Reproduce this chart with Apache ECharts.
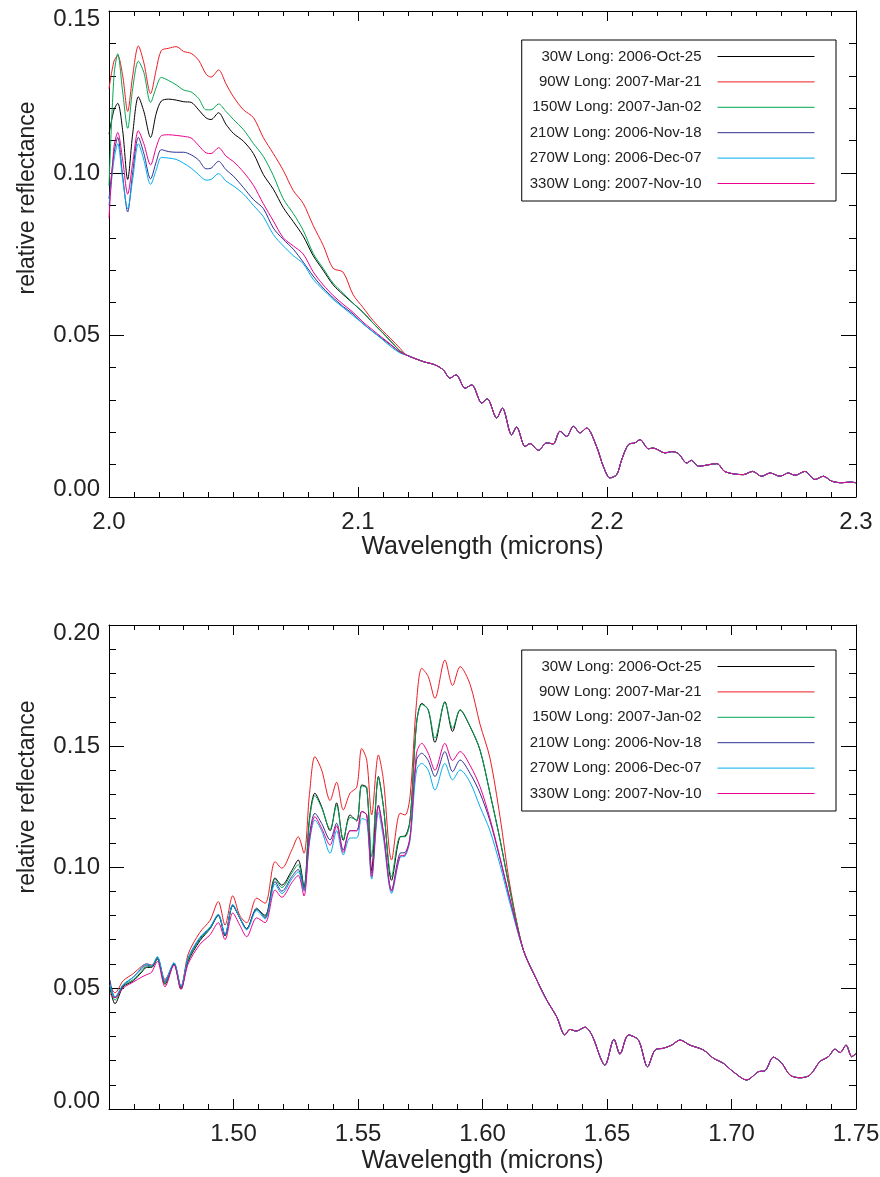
<!DOCTYPE html>
<html>
<head>
<meta charset="utf-8">
<title>relative reflectance</title>
<script src="https://cdn.jsdelivr.net/npm/echarts@6/dist/echarts.min.js"></script>
<style>
  body { margin: 0; background: #fff; }
  #main { width: 880px; height: 1177px; }
</style>
</head>
<body>
<div id="main"></div>
<script>
// series names (legend)
var names = ['30W Long: 2006-Oct-25', '90W Long: 2007-Mar-21', '150W Long: 2007-Jan-02',
             '210W Long: 2006-Nov-18', '270W Long: 2006-Dec-07', '330W Long: 2007-Nov-10'];
var colors = ['#000000', '#ed1c24', '#00a651', '#2e3192', '#00aeef', '#ec008c'];

// ---- top panel: 2.0 - 2.3 microns ----
// wavelengths where the six curves differ
var wlTopHead = [2.000, 2.002, 2.0035, 2.0055, 2.0075, 2.0095, 2.0118, 2.014, 2.0167, 2.019,
                 2.021, 2.024, 2.027, 2.030, 2.033, 2.036, 2.039, 2.041, 2.044, 2.047,
                 2.050, 2.054, 2.058, 2.062, 2.066, 2.070, 2.074, 2.078, 2.082, 2.086,
                 2.090, 2.094, 2.098, 2.102, 2.106, 2.110, 2.113, 2.117];
var blackTop = [0.112, 0.1195, 0.1215, 0.113, 0.0980, 0.112, 0.1235, 0.119, 0.1110, 0.1185,
                0.1222, 0.1228, 0.1225, 0.1220, 0.1218, 0.1195, 0.1170, 0.1165, 0.1186, 0.1150,
                0.1122, 0.1098, 0.1060, 0.0995, 0.0950, 0.0893, 0.0850, 0.0805, 0.0745, 0.0700,
                0.0655, 0.0625, 0.0598, 0.0570, 0.0537, 0.0506, 0.0482, 0.0450];
var redTop = [0.126, 0.1345, 0.1362, 0.130, 0.1190, 0.130, 0.1392, 0.134, 0.1245, 0.132,
              0.1378, 0.1385, 0.1390, 0.1375, 0.1369, 0.1348, 0.1305, 0.1296, 0.1318, 0.1275,
              0.1235, 0.1195, 0.1171, 0.1109, 0.1060, 0.1008, 0.0946, 0.0906, 0.0838, 0.0777,
              0.0706, 0.0694, 0.0625, 0.0585, 0.0545, 0.0512, 0.0490, 0.0458];
var greenTop = [0.096, 0.130, 0.1368, 0.125, 0.1138, 0.126, 0.1345, 0.131, 0.1218, 0.1265,
                0.1295, 0.1285, 0.1272, 0.1256, 0.1250, 0.1230, 0.1195, 0.1195, 0.1213, 0.1190,
                0.1165, 0.1134, 0.1091, 0.1051, 0.0992, 0.0920, 0.0875, 0.0823, 0.0752, 0.0706,
                0.0660, 0.0629, 0.0598, 0.0571, 0.0537, 0.0506, 0.0482, 0.0450];
var blueTop = [0.092, 0.106, 0.1110, 0.099, 0.0880, 0.100, 0.1110, 0.106, 0.0982, 0.1035,
               0.1072, 0.1066, 0.1064, 0.1064, 0.1056, 0.1040, 0.1013, 0.1015, 0.1036, 0.1010,
               0.0990, 0.0955, 0.0918, 0.0890, 0.0830, 0.0795, 0.0765, 0.0725, 0.0682, 0.0645,
               0.0615, 0.0588, 0.0565, 0.0535, 0.0510, 0.0487, 0.0470, 0.0446];
var cyanTop = [0.090, 0.104, 0.1090, 0.098, 0.0890, 0.098, 0.1090, 0.104, 0.0965, 0.101,
               0.1048, 0.1046, 0.1042, 0.1030, 0.1015, 0.0995, 0.0978, 0.0980, 0.0998, 0.0975,
               0.0960, 0.0935, 0.0900, 0.0865, 0.0810, 0.0775, 0.0745, 0.0720, 0.0672, 0.0640,
               0.0610, 0.0585, 0.0560, 0.0535, 0.0510, 0.0485, 0.0465, 0.0444];
var pinkTop = [0.086, 0.108, 0.1125, 0.104, 0.0935, 0.103, 0.1130, 0.109, 0.1025, 0.108,
               0.1115, 0.1118, 0.1116, 0.1113, 0.1108, 0.1085, 0.1062, 0.1060, 0.1078, 0.1052,
               0.1035, 0.1003, 0.0962, 0.0905, 0.0852, 0.0800, 0.0775, 0.0750, 0.0695, 0.0655,
               0.0622, 0.0595, 0.0570, 0.0540, 0.0515, 0.0490, 0.0472, 0.0447];
// beyond ~2.12 the curves lie on top of each other
var wlTopTail = [2.1195, 2.1262, 2.1309, 2.1343, 2.1369, 2.1394, 2.1430, 2.1457, 2.1497, 2.1519,
                 2.1557, 2.1580, 2.1617, 2.1637, 2.1671, 2.1691, 2.1724, 2.1758, 2.1784, 2.1811,
                 2.1838, 2.1865, 2.1892, 2.1918, 2.1958, 2.1985, 2.2012, 2.2039, 2.2059, 2.2086,
                 2.2112, 2.2133, 2.2166, 2.2186, 2.2233, 2.2260, 2.2287, 2.2320, 2.2340, 2.2367,
                 2.2441, 2.2474, 2.2547, 2.2585, 2.2621, 2.2655, 2.2695, 2.2728, 2.2755, 2.2795,
                 2.2835, 2.2869, 2.2902, 2.2942, 2.2976, 2.3000];
var topTail = [0.0438, 0.0418, 0.0408, 0.0392, 0.0367, 0.0377, 0.0336, 0.0346, 0.0290, 0.0303,
               0.0244, 0.0274, 0.0192, 0.0216, 0.0156, 0.0165, 0.0144, 0.0167, 0.0164, 0.0203,
               0.0187, 0.0218, 0.0198, 0.0213, 0.0156, 0.0095, 0.0059, 0.0069, 0.0115, 0.0162,
               0.0167, 0.0177, 0.0149, 0.0151, 0.0136, 0.0140, 0.0134, 0.0105, 0.0113, 0.0095,
               0.0103, 0.0078, 0.0069, 0.0079, 0.0064, 0.0074, 0.0064, 0.0074, 0.0067, 0.0079,
               0.0054, 0.0064, 0.0049, 0.0044, 0.0046, 0.0044];

// ---- bottom panel: 1.45 - 1.75 microns ----
var wlBotHead = [1.4504, 1.4524, 1.4557, 1.4598, 1.4631, 1.4651, 1.4671, 1.4694, 1.4725, 1.4761,
                 1.4789, 1.4818, 1.4865, 1.4906, 1.4939, 1.4966, 1.4997, 1.5025, 1.5053, 1.5093,
                 1.5127, 1.5167, 1.5194, 1.5234, 1.5260, 1.5283, 1.5305, 1.5327, 1.5354, 1.5388,
                 1.5414, 1.5441, 1.5468, 1.5495, 1.5515, 1.5535, 1.5555, 1.5582, 1.5602, 1.5635,
                 1.5669, 1.5689, 1.5709, 1.5735, 1.5756, 1.5782, 1.5809, 1.5849, 1.5880, 1.5910,
                 1.5950, 1.5990, 1.6030, 1.6070, 1.6110];
var blackBot = [0.0500, 0.0435, 0.0505, 0.0530, 0.0565, 0.0585, 0.0585, 0.0620, 0.0515, 0.0600,
                0.0495, 0.0610, 0.0695, 0.0745, 0.0800, 0.0715, 0.0840, 0.0790, 0.0745, 0.0825,
                0.0800, 0.0955, 0.0925, 0.0985, 0.1029, 0.0919, 0.1200, 0.1305, 0.1249, 0.1150,
                0.1265, 0.1110, 0.1215, 0.1190, 0.1339, 0.1329, 0.0985, 0.1374, 0.1250, 0.0945,
                0.1125, 0.1128, 0.1194, 0.1594, 0.1676, 0.1649, 0.1515, 0.1683, 0.1560, 0.1649,
                0.1580, 0.1483, 0.1305, 0.1115, 0.0905];
var redBot = [0.0510, 0.0480, 0.0530, 0.0560, 0.0590, 0.0600, 0.0595, 0.0620, 0.0535, 0.0600,
              0.0505, 0.0640, 0.0730, 0.0780, 0.0857, 0.0760, 0.0881, 0.0800, 0.0770, 0.0871,
              0.0850, 0.1022, 0.0995, 0.1070, 0.1125, 0.1057, 0.1300, 0.1456, 0.1401, 0.1275,
              0.1350, 0.1236, 0.1305, 0.1330, 0.1490, 0.1442, 0.1215, 0.1463, 0.1360, 0.1029,
              0.1222, 0.1215, 0.1291, 0.1680, 0.1821, 0.1787, 0.1697, 0.1855, 0.1750, 0.1828,
              0.1755, 0.1590, 0.1450, 0.1210, 0.0925];
var greenBot = [0.0510, 0.0450, 0.0510, 0.0535, 0.0570, 0.0590, 0.0588, 0.0622, 0.0520, 0.0600,
                0.0500, 0.0615, 0.0700, 0.0745, 0.0800, 0.0718, 0.0842, 0.0790, 0.0745, 0.0825,
                0.0795, 0.0950, 0.0915, 0.0975, 0.1010, 0.0912, 0.1190, 0.1295, 0.1245, 0.1155,
                0.1255, 0.1115, 0.1205, 0.1195, 0.1335, 0.1325, 0.1043, 0.1370, 0.1250, 0.0960,
                0.1125, 0.1125, 0.1190, 0.1590, 0.1672, 0.1650, 0.1532, 0.1680, 0.1573, 0.1650,
                0.1582, 0.1485, 0.1305, 0.1115, 0.0905];
var blueBot = [0.0533, 0.0460, 0.0512, 0.0545, 0.0580, 0.0595, 0.0590, 0.0627, 0.0526, 0.0602,
               0.0503, 0.0623, 0.0705, 0.0750, 0.0802, 0.0720, 0.0843, 0.0790, 0.0745, 0.0830,
               0.0790, 0.0940, 0.0900, 0.0960, 0.0990, 0.0905, 0.1130, 0.1222, 0.1180, 0.1112,
               0.1181, 0.1070, 0.1150, 0.1150, 0.1229, 0.1215, 0.0974, 0.1256, 0.1146, 0.0905,
               0.1057, 0.1060, 0.1125, 0.1442, 0.1470, 0.1440, 0.1374, 0.1477, 0.1394, 0.1442,
               0.1387, 0.1305, 0.1190, 0.1035, 0.0865];
var cyanBot = [0.0510, 0.0464, 0.0515, 0.0545, 0.0585, 0.0600, 0.0592, 0.0630, 0.0530, 0.0605,
               0.0508, 0.0625, 0.0710, 0.0752, 0.0805, 0.0722, 0.0845, 0.0790, 0.0740, 0.0820,
               0.0785, 0.0930, 0.0890, 0.0950, 0.0980, 0.0900, 0.1100, 0.1194, 0.1150, 0.1057,
               0.1150, 0.1050, 0.1120, 0.1120, 0.1200, 0.1190, 0.0950, 0.1225, 0.1120, 0.0891,
               0.1040, 0.1045, 0.1110, 0.1400, 0.1428, 0.1400, 0.1318, 0.1428, 0.1360, 0.1401,
               0.1350, 0.1249, 0.1150, 0.1010, 0.0850];
var pinkBot = [0.0475, 0.0460, 0.0500, 0.0525, 0.0545, 0.0555, 0.0565, 0.0610, 0.0505, 0.0595,
               0.0495, 0.0600, 0.0680, 0.0720, 0.0770, 0.0700, 0.0810, 0.0760, 0.0712, 0.0790,
               0.0770, 0.0905, 0.0875, 0.0935, 0.0965, 0.0880, 0.1110, 0.1208, 0.1160, 0.1090,
               0.1170, 0.1060, 0.1150, 0.1150, 0.1230, 0.1215, 0.0960, 0.1250, 0.1140, 0.0900,
               0.1045, 0.1050, 0.1120, 0.1470, 0.1511, 0.1470, 0.1400, 0.1511, 0.1440, 0.1477,
               0.1420, 0.1332, 0.1200, 0.1040, 0.0870];
var wlBotTail = [1.6164, 1.6218, 1.6258, 1.6298, 1.6331, 1.6351, 1.6376, 1.6412, 1.6439, 1.6492,
                 1.6528, 1.6552, 1.6586, 1.6626, 1.6663, 1.6693, 1.6726, 1.6760, 1.6793, 1.6833,
                 1.6887, 1.6927, 1.6967, 1.7007, 1.7061, 1.7108, 1.7135, 1.7168, 1.7202, 1.7235,
                 1.7275, 1.7315, 1.7355, 1.7389, 1.7416, 1.7436, 1.7460, 1.7483, 1.7500];
var botTail = [0.0657, 0.0533, 0.0450, 0.0381, 0.0306, 0.0329, 0.0322, 0.0338, 0.0306, 0.0182,
               0.0288, 0.0227, 0.0306, 0.0285, 0.0175, 0.0244, 0.0251, 0.0264, 0.0285, 0.0264,
               0.0244, 0.0210, 0.0189, 0.0154, 0.0120, 0.0154, 0.0158, 0.0214, 0.0189, 0.0140,
               0.0129, 0.0140, 0.0196, 0.0216, 0.0247, 0.0233, 0.0264, 0.0216, 0.0230];

var topValues = [blackTop, redTop, greenTop, blueTop, cyanTop, pinkTop];
var botValues = [blackBot, redBot, greenBot, blueBot, cyanBot, pinkBot];

// join head + shared tail into [x, y] pairs
function pairs(xs, ys, xs2, ys2) {
    var out = [];
    for (var i = 0; i < xs.length; i++) out.push([xs[i], ys[i]]);
    for (var j = 0; j < xs2.length; j++) out.push([xs2[j], ys2[j]]);
    return out;
}

var font = "'Liberation Sans', Arial, sans-serif";
var textColor = '#222';

function xAxisOpt(grid, min, max, interval, minorSplit, pos, fmt, nameGap) {
    var mirror = pos === 'top';
    return {
        gridIndex: grid, type: 'value', position: pos,
        min: min, max: max, interval: interval,
        axisLine: { onZero: false, lineStyle: { color: '#000', width: 1 } },
        axisTick: { inside: true, length: 10, lineStyle: { color: '#000' } },
        minorTick: { show: true, splitNumber: minorSplit, length: 5, lineStyle: { color: '#000' } },
        splitLine: { show: false },
        axisLabel: { show: !mirror, margin: 13, fontSize: 24, color: textColor, fontFamily: font, formatter: fmt },
        name: mirror ? '' : 'Wavelength (microns)',
        nameLocation: 'middle', nameGap: nameGap,
        nameTextStyle: { fontSize: 25, color: textColor, fontFamily: font }
    };
}

function yAxisOpt(grid, max, pos) {
    var mirror = pos === 'right';
    return {
        gridIndex: grid, type: 'value', position: pos,
        min: 0, max: max, interval: 0.05,
        axisLine: { show: true, onZero: false, lineStyle: { color: '#000', width: 1 } },
        axisTick: { show: true, inside: true, length: 15, lineStyle: { color: '#000' } },
        minorTick: { show: true, splitNumber: 5, length: 7, lineStyle: { color: '#000' } },
        splitLine: { show: false },
        axisLabel: {
            show: !mirror, margin: 9, fontSize: 24, color: textColor, fontFamily: font, lineHeight: 16,
            verticalAlignMinLabel: 'bottom', verticalAlignMaxLabel: 'top',
            formatter: function (v) { return v.toFixed(2); }
        }
    };
}

// legend box: text right-aligned, a plain line sample on the right
function legendOpt(top) {
    return {
        orient: 'vertical', right: 44, top: top, align: 'right',
        itemWidth: 97, itemHeight: 15, itemGap: 10.4,
        padding: [9, 21, 10, 8],
        borderColor: '#000', borderWidth: 1,
        selectedMode: false,
        itemStyle: { opacity: 0 },
        lineStyle: { width: 1 },
        textStyle: { fontSize: 15, color: textColor, fontFamily: font, padding: [0, 11, 0, 0] },
        data: names
    };
}

var series = [];
for (var k = 0; k < 6; k++) {
    series.push({
        name: names[k], type: 'line', xAxisIndex: 0, yAxisIndex: 0,
        symbol: 'none', smooth: 0.3, color: colors[k],
        lineStyle: { width: 1, color: colors[k] },
        data: pairs(wlTopHead, topValues[k], wlTopTail, topTail)
    });
}
for (var m = 0; m < 6; m++) {
    series.push({
        name: names[m], type: 'line', xAxisIndex: 2, yAxisIndex: 2,
        symbol: 'none', smooth: 0.3, color: colors[m],
        lineStyle: { width: 1, color: colors[m] },
        data: pairs(wlBotHead, botValues[m], wlBotTail, botTail)
    });
}

var chart = echarts.init(document.getElementById('main'));
chart.setOption({
    animation: false,
    backgroundColor: '#fff',
    grid: [
        { left: 109, top: 11, width: 747, height: 486, outerBoundsMode: 'none' },
        { left: 109, top: 625, width: 747, height: 484, outerBoundsMode: 'none' }
    ],
    xAxis: [
        xAxisOpt(0, 2.0, 2.3, 0.1, 10, 'bottom', function (v) { return v.toFixed(1); }, 38),
        xAxisOpt(0, 2.0, 2.3, 0.1, 10, 'top', null, 0),
        xAxisOpt(1, 1.45, 1.75, 0.05, 5, 'bottom', function (v) {
            return Math.abs(v - 1.45) < 1e-6 ? '' : v.toFixed(2);
        }, 40),
        xAxisOpt(1, 1.45, 1.75, 0.05, 5, 'top', null, 0)
    ],
    yAxis: [
        yAxisOpt(0, 0.15, 'left'),
        yAxisOpt(0, 0.15, 'right'),
        yAxisOpt(1, 0.20, 'left'),
        yAxisOpt(1, 0.20, 'right')
    ],
    legend: [legendOpt(40), legendOpt(650)],
    graphic: [
        { type: 'text', x: 28, y: 198, rotation: Math.PI / 2,
          style: { text: 'relative reflectance', font: '23px ' + font, fill: textColor,
                   align: 'center', verticalAlign: 'middle', textAlign: 'center', textVerticalAlign: 'middle' } },
        { type: 'text', x: 28, y: 797, rotation: Math.PI / 2,
          style: { text: 'relative reflectance', font: '23px ' + font, fill: textColor,
                   align: 'center', verticalAlign: 'middle', textAlign: 'center', textVerticalAlign: 'middle' } }
    ],
    series: series
});
</script>
</body>
</html>
